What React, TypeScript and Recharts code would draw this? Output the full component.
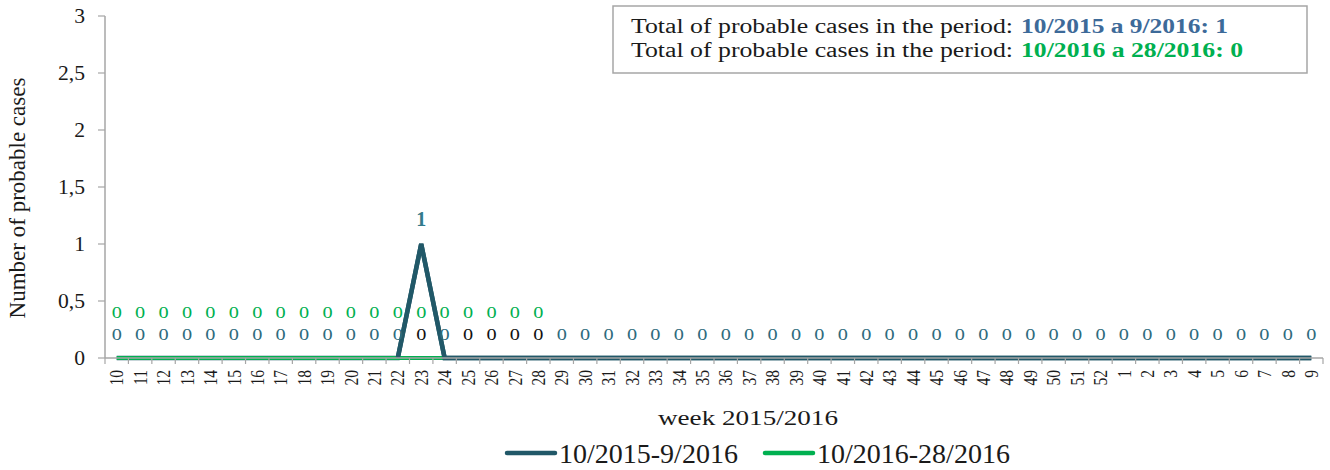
import React from "react"
import { Label, LabelList, Legend, Line, LineChart, XAxis, YAxis } from "recharts"

// epidemiological weeks, 10/2015 .. 9/2016
const weeks = [
	"10", "11", "12", "13", "14", "15", "16", "17", "18", "19",
	"20", "21", "22", "23", "24", "25", "26", "27", "28", "29",
	"30", "31", "32", "33", "34", "35", "36", "37", "38", "39",
	"40", "41", "42", "43", "44", "45", "46", "47", "48", "49",
	"50", "51", "52", "1", "2", "3", "4", "5", "6", "7", "8", "9"
]

// probable cases 10/2015-9/2016
const cases2015 = [
	0, 0, 0, 0, 0, 0, 0, 0, 0, 0,
	0, 0, 0, 1, 0, 0, 0, 0, 0, 0,
	0, 0, 0, 0, 0, 0, 0, 0, 0, 0,
	0, 0, 0, 0, 0, 0, 0, 0, 0, 0,
	0, 0, 0, 0, 0, 0, 0, 0, 0, 0, 0, 0
]

// probable cases 10/2016-28/2016 (weeks 10..28)
const cases2016 = [0, 0, 0, 0, 0, 0, 0, 0, 0, 0, 0, 0, 0, 0, 0, 0, 0, 0, 0]

// weeks where the zero label is printed in black
const blackZeroWeeks = ["23", "25", "26", "27", "28"]

// the darker line is drawn again on top from this week on
const overlayFromWeek = "22"

const yTicks = [0, 0.5, 1, 1.5, 2, 2.5, 3]

const totalLabel = "Total of probable cases in the period:"
const total2015 = "10/2015 a 9/2016: 1"
const total2016 = "10/2016 a 28/2016: 0"

const FONT = "Liberation Serif"
const TEAL = "#215868"
const TEAL_LABEL = "#2E6B7D"
const GREEN = "#00B050"
const AXIS = "#A6A6A6"
const TEXT = "#1a1a1a"

const WIDTH = 1330
const HEIGHT = 470
const MARGIN = { top: 16, right: 7, left: 0, bottom: 0 }
const Y_AXIS_W = 105
const BAND = (WIDTH - MARGIN.left - MARGIN.right - Y_AXIS_W) / weeks.length

const overlayStart = weeks.indexOf(overlayFromWeek)

const data = weeks.map((week, i) => ({
	week,
	a: cases2015[i],
	aTop: i >= overlayStart ? cases2015[i] : null,
	aLabel: blackZeroWeeks.includes(week) && cases2015[i] === 0 ? null : cases2015[i],
	b: i < cases2016.length ? cases2016[i] : null,
	black: blackZeroWeeks.includes(week) ? 0 : null
}))

const WeekTick = (props: any) => {
	const { x, y, payload, index } = props
	const last = index === weeks.length - 1
	return (
		<g>
			<line x1={x - BAND / 2} y1={y} x2={x - BAND / 2} y2={y + 6} stroke={AXIS} strokeWidth={1.2} />
			{last && <line x1={x + BAND / 2} y1={y} x2={x + BAND / 2} y2={y + 6} stroke={AXIS} strokeWidth={1.2} />}
			<text
				transform={`translate(${x},${y + 12}) scale(1.28,1) rotate(-90)`}
				textAnchor="end"
				dominantBaseline="central"
				fontFamily={FONT}
				fontSize={15.5}
				fill={TEXT}
			>
				{payload.value}
			</text>
		</g>
	)
}

const CasesTick = (props: any) => {
	const { x, y, payload } = props
	return (
		<text
			transform={`translate(${x - 13},${y}) scale(1.08,1)`}
			textAnchor="end"
			dominantBaseline="central"
			fontFamily={FONT}
			fontSize={20}
			fill={TEXT}
		>
			{String(payload.value).replace(".", ",")}
		</text>
	)
}

const zeroText = (x: number, y: number, color: string) => (
	<text
		transform={`translate(${x},${y}) scale(1.16,1)`}
		textAnchor="middle"
		fontFamily={FONT}
		fontSize={17.5}
		fill={color}
	>
		0
	</text>
)

const tealLabel = (props: any) => {
	const { x, y, value } = props
	if (value == null) return null
	if (value > 0) {
		return (
			<text x={x} y={y - 18} textAnchor="middle" fontFamily={FONT} fontSize={20} fontWeight="bold" fill="#337A8C">
				{value}
			</text>
		)
	}
	return zeroText(x, y - 18, TEAL_LABEL)
}

const greenLabel = (props: any) => {
	const { x, y, value } = props
	if (value == null) return null
	return zeroText(x, y - 40, GREEN)
}

const blackLabel = (props: any) => {
	const { x, y, value } = props
	if (value == null) return null
	return zeroText(x, y - 18, "#111")
}

const XTitle = (props: any) => {
	const { x, y, width } = props.viewBox
	return (
		<text
			x={x + width / 2 + 34}
			y={y + 67}
			textAnchor="middle"
			fontFamily={FONT}
			fontSize={20}
			textLength={180}
			lengthAdjust="spacingAndGlyphs"
			fill={TEXT}
		>
			week 2015/2016
		</text>
	)
}

const YTitle = (props: any) => {
	const { x, y, height } = props.viewBox
	return (
		<text
			transform={`translate(${x + 25},${y + height / 2 + 11}) rotate(-90)`}
			textAnchor="middle"
			fontFamily={FONT}
			fontSize={23}
			fill={TEXT}
		>
			Number of probable cases
		</text>
	)
}

const legendX = [507, 765]

const LegendContent = (props: any) => {
	const items = (props.payload || []).filter((p: any) => p.type !== "none")
	return (
		<svg width={WIDTH} height={40} style={{ display: "block" }}>
			{items.map((item: any, i: number) => (
				<g key={item.value}>
					<line
						x1={legendX[i]}
						y1={23}
						x2={legendX[i] + 48}
						y2={23}
						stroke={item.color}
						strokeWidth={4.5}
						strokeLinecap="round"
					/>
					<text x={legendX[i] + 52} y={32.5} fontFamily={FONT} fontSize={28} fill={TEXT}>
						{item.value}
					</text>
				</g>
			))}
		</svg>
	)
}

const TotalsBox = () => (
	<svg width={WIDTH} height={80} style={{ position: "absolute", left: 0, top: 0, pointerEvents: "none" }}>
		<rect x={613} y={6} width={694} height={67} fill="#fff" stroke={AXIS} strokeWidth={1.5} />
		<text x={631} y={32.5} fontFamily={FONT} fontSize={20} fill={TEXT} textLength={382} lengthAdjust="spacingAndGlyphs">
			{totalLabel}
		</text>
		<text x={1021} y={32.5} fontFamily={FONT} fontSize={20} fontWeight="bold" fill="#3D6A99" textLength={207} lengthAdjust="spacingAndGlyphs">
			{total2015}
		</text>
		<text x={631} y={56.5} fontFamily={FONT} fontSize={20} fill={TEXT} textLength={382} lengthAdjust="spacingAndGlyphs">
			{totalLabel}
		</text>
		<text x={1021} y={56.5} fontFamily={FONT} fontSize={20} fontWeight="bold" fill={GREEN} textLength={222} lengthAdjust="spacingAndGlyphs">
			{total2016}
		</text>
	</svg>
)

export default function App() {
	return (
		<div style={{ position: "absolute", left: 0, top: 0, width: WIDTH, height: HEIGHT, background: "#fff" }}>
			<LineChart width={WIDTH} height={HEIGHT} data={data} margin={MARGIN}>
				<XAxis
					dataKey="week"
					interval={0}
					tickLine={false}
					tickSize={0}
					tickMargin={0}
					axisLine={{ stroke: AXIS, strokeWidth: 1.5 }}
					padding={{ left: BAND / 2, right: BAND / 2 }}
					height={72}
					tick={<WeekTick />}
				>
					<Label content={<XTitle />} />
				</XAxis>
				<YAxis
					width={Y_AXIS_W}
					domain={[0, 3]}
					ticks={yTicks}
					tickSize={7}
					tickMargin={0}
					tickLine={{ stroke: AXIS, strokeWidth: 1.2 }}
					axisLine={{ stroke: AXIS, strokeWidth: 1.5 }}
					tick={<CasesTick />}
				>
					<Label content={<YTitle />} />
				</YAxis>
				<Legend verticalAlign="bottom" height={40} wrapperStyle={{ left: 0, bottom: 0, width: WIDTH }} content={<LegendContent />} />
				<Line
					dataKey="a"
					name="10/2015-9/2016"
					stroke={TEAL}
					strokeWidth={4.5}
					dot={false}
					activeDot={false}
					isAnimationActive={false}
				>
					<LabelList dataKey="aLabel" content={tealLabel} />
				</Line>
				<Line
					dataKey="b"
					name="10/2016-28/2016"
					stroke={GREEN}
					strokeWidth={4}
					dot={false}
					activeDot={false}
					isAnimationActive={false}
				>
					<LabelList dataKey="b" content={greenLabel} />
				</Line>
				<Line
					dataKey="aTop"
					legendType="none"
					stroke={TEAL}
					strokeWidth={4.5}
					dot={false}
					activeDot={false}
					isAnimationActive={false}
				/>
				<Line
					dataKey="black"
					legendType="none"
					stroke="none"
					dot={false}
					activeDot={false}
					isAnimationActive={false}
				>
					<LabelList dataKey="black" content={blackLabel} />
				</Line>
			</LineChart>
			<TotalsBox />
		</div>
	)
}
